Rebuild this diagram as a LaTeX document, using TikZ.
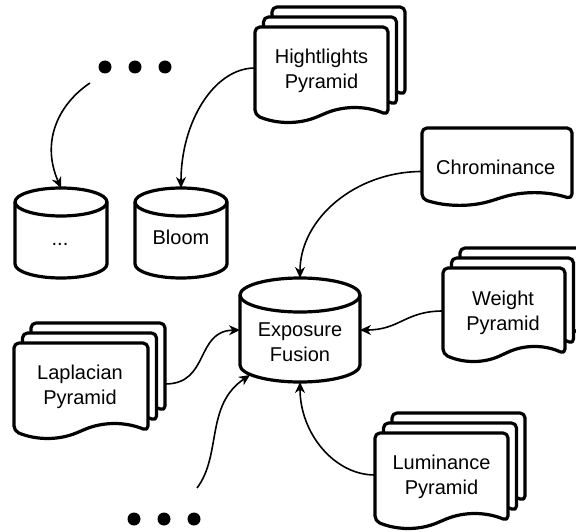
\documentclass[tikz,border=0pt]{standalone}
\usepackage{fontspec}
\setmainfont{Liberation Sans}
\usetikzlibrary{arrows.meta}
\tikzset{
  sheet/.style={draw=black, fill=white, line width=3.2pt, rounded corners=5pt, line join=round},
  cylline/.style={draw=black, fill=white, line width=3.2pt, line join=round},
  shp/.style={inner sep=0pt, outer sep=0pt, draw=none, rectangle},
  lbl/.style={font=\fontsize{20}{25}\selectfont, align=center, inner sep=0pt},
  conn/.style={line width=1.6pt, -{Stealth[length=11pt,width=10pt,inset=3.5pt]}},
}
% document sheet: x1, ytop, x2, ybottom (wave end), amplitude (pixel coords, y down)
\newcommand\docsheet[5]{%
  \pgfmathsetmacro\dW{(#3)-(#1)}%
  \pgfmathsetmacro\xm{((#1)+(#3))/2}%
  \pgfmathsetmacro\ymid{((#2)+(#4))/2}%
  \pgfmathsetmacro\ca{4*(#5)/3}%
  \filldraw[sheet] (#1,\ymid) -- (#1,#2) -- (#3,#2) -- (#3,#4)
    .. controls ({(#3)-\dW/6},{(#4)-\ca}) and ({(#3)-\dW/3},{(#4)-\ca}) .. (\xm,#4)
    .. controls ({\xm-\dW/6},{(#4)+\ca}) and ({\xm-\dW/3},{(#4)+\ca}) .. (#1,#4) -- cycle;
}
\newcommand\multidoc[5]{%
  \docsheet{#1+17}{#2-20}{#3+17}{#4-20}{#5}%
  \docsheet{#1+8.5}{#2-10}{#3+8.5}{#4-10}{#5}%
  \docsheet{#1}{#2}{#3}{#4}{#5}%
}
% cylinder: x1, ytop, x2, ybottom, rx, ry
\newcommand\cyl[6]{%
  \filldraw[cylline] (#1,{(#2)+(#6)}) -- (#1,{(#4)-(#6)})
    arc[start angle=180,end angle=360,x radius=#5pt,y radius=#6pt]
    -- (#3,{(#2)+(#6)})
    arc[start angle=0,end angle=180,x radius=#5pt,y radius=#6pt] -- cycle;
  \draw[cylline,fill=none] (#1,{(#2)+(#6)}) arc[start angle=180,end angle=360,x radius=#5pt,y radius=#6pt];
}
\begin{document}
\begin{tikzpicture}[x=1pt,y=-1pt]
\useasboundingbox (0,0) rectangle (576,532);
\fill[white] (0,0) rectangle (576,532);
\clip (0,0) rectangle (576,532);

% shapes
\multidoc{255}{27}{388}{115}{7}
\docsheet{422}{128}{572}{199}{6}
\multidoc{443}{268}{565}{354}{7}
\multidoc{14}{343}{148}{431}{7}
\multidoc{375}{433}{508}{521}{7}
\cyl{15}{188}{107}{278}{46}{14}
\cyl{135}{188}{227}{278}{46}{14}
\cyl{240}{278}{360}{382}{60}{17}

% named nodes with their texts
\node[shp, minimum width=133pt, minimum height=88pt,
  label={[lbl]center:{Hightlights\\Pyramid}}] (hp) at (321.5,71) {};
\node[shp, minimum width=150pt, minimum height=71pt,
  label={[lbl, xshift=-1.3pt, yshift=-4.3pt]center:{Chrominance}}] (ch) at (497,163.5) {};
\node[shp, minimum width=122pt, minimum height=86pt,
  label={[lbl, xshift=-1pt, yshift=-1.4pt]center:{Weight\\Pyramid}}] (wp) at (504,311) {};
\node[shp, minimum width=134pt, minimum height=88pt,
  label={[lbl, xshift=-1pt]center:{Laplacian\\Pyramid}}] (lp) at (81,387) {};
\node[shp, minimum width=133pt, minimum height=88pt,
  label={[lbl]center:{Luminance\\Pyramid}}] (lu) at (441.5,477) {};
\node[shp, minimum width=92pt, minimum height=90pt,
  label={[lbl, xshift=-1pt, yshift=-7pt]center:{\strut...}}] (c1) at (61,233) {};
\node[shp, minimum width=92pt, minimum height=90pt,
  label={[lbl, yshift=-4.8pt]center:{Bloom}}] (bl) at (181,233) {};
\node[shp, minimum width=120pt, minimum height=104pt,
  label={[lbl, yshift=-12.7pt]center:{Exposure\\Fusion}}] (ef) at (300,330) {};

% dots
\node[shp, minimum width=73pt, minimum height=13pt] (dotsT) at (135,67) {};
\node[shp, minimum width=73pt, minimum height=13pt] (dotsB) at (164,519) {};
\foreach \dx in {-30,0,30} {
  \fill ([xshift=\dx pt]dotsT.center) circle[radius=6.5pt];
  \fill ([xshift=\dx pt]dotsB.center) circle[radius=6.5pt];
}

% connectors
\draw[conn] ([shift={(-45,16)}]dotsT.center) .. controls (60,103) and (40,140) .. (c1.north);
\draw[conn] ([yshift=3pt]hp.west) .. controls (214,68) and (181,122) .. (bl.north);
\draw[conn] ([yshift=-8pt]ch.west) .. controls (355,171.5) and (300,219) .. (ef.north);
\draw[conn] (wp.west) .. controls (405,311) and (400,330) .. (ef.east);
\draw[conn] ([shift={(17,-3)}]lp.east) .. controls (210,384) and (195,331) .. (ef.west);
\draw[conn] ([shift={(33,-31)}]dotsB.center) .. controls (222,455) and (205,405) .. ([shift={(-50,-7)}]ef.south);
\draw[conn] ([yshift=2pt]lu.west) .. controls (334,475) and (300,433) .. (ef.south);
\end{tikzpicture}
\end{document}
